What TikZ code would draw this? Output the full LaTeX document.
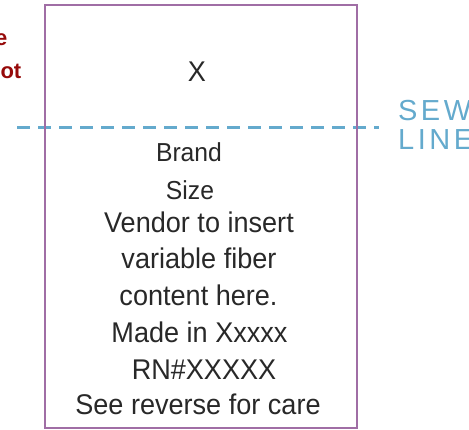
\documentclass[tikz,border=0pt]{standalone}
\usepackage{fontspec}
\setmainfont{Liberation Sans}[FakeStretch=0.95]
\newfontfamily\sewfont{Liberation Sans}[LetterSpace=12]
\newfontfamily\redfont{Liberation Sans}
\definecolor{boxpurple}{RGB}{160,110,165}
\definecolor{sewblue}{RGB}{100,170,205}
\definecolor{darkred}{RGB}{150,10,10}
\definecolor{txtgray}{RGB}{40,40,40}
\tikzset{
  labeltext/.style={inner sep=0pt, text=txtgray, font=\fontsize{28.5}{28.5}\selectfont, anchor=base},
  smalltext/.style={labeltext, font=\fontsize{26}{26}\selectfont},
  redtext/.style={inner sep=0pt, text=darkred, font=\redfont\bfseries\fontsize{22}{22}\selectfont, anchor=base east},
  sewtext/.style={inner sep=0pt, text=sewblue, font=\sewfont\fontsize{29}{29}\selectfont, anchor=base west}
}
\begin{document}
\begin{tikzpicture}[x=1pt,y=-1pt]
\useasboundingbox (0,0) rectangle (469,430);
\begin{scope}
\clip (0,0) rectangle (469,430);
% red clipped text
\node[redtext] (r1) at (7.5,46) {e};
\node[redtext] (r2) at (21.5,79) {ot};
% sew line text
\node[sewtext] (s1) at (398,121) {SEW};
\node[sewtext] (s2) at (398,150) {LINE};
\end{scope}
% dashed sew line
\coordinate (d1) at (17,127.5);
\coordinate (d2) at (379,127.5);
\draw[sewblue, line width=3pt, dash pattern=on 13pt off 8pt] (d1) -- (d2);
% label box
\node[draw=boxpurple, line width=2.5pt, minimum width=312pt, minimum height=423pt, inner sep=0pt, anchor=north west] (label) at (43.5,4) {};
% texts
\node[labeltext] (x) at (197,82) {X};
\node[smalltext] (brand) at (189,162) {Brand};
\node[smalltext] (size) at (190,200) {Size};
\node[labeltext] (vendor) at (199,233) {Vendor to insert};
\node[labeltext] (variable) at (199,269) {variable fiber};
\node[labeltext] (content) at (198.5,306) {content here.};
\node[labeltext] (made) at (199.5,343) {Made in Xxxxx};
\node[labeltext] (rn) at (204,380) {RN\#XXXXX};
\node[labeltext] (see) at (198,415) {See reverse for care};
\end{tikzpicture}
\end{document}
